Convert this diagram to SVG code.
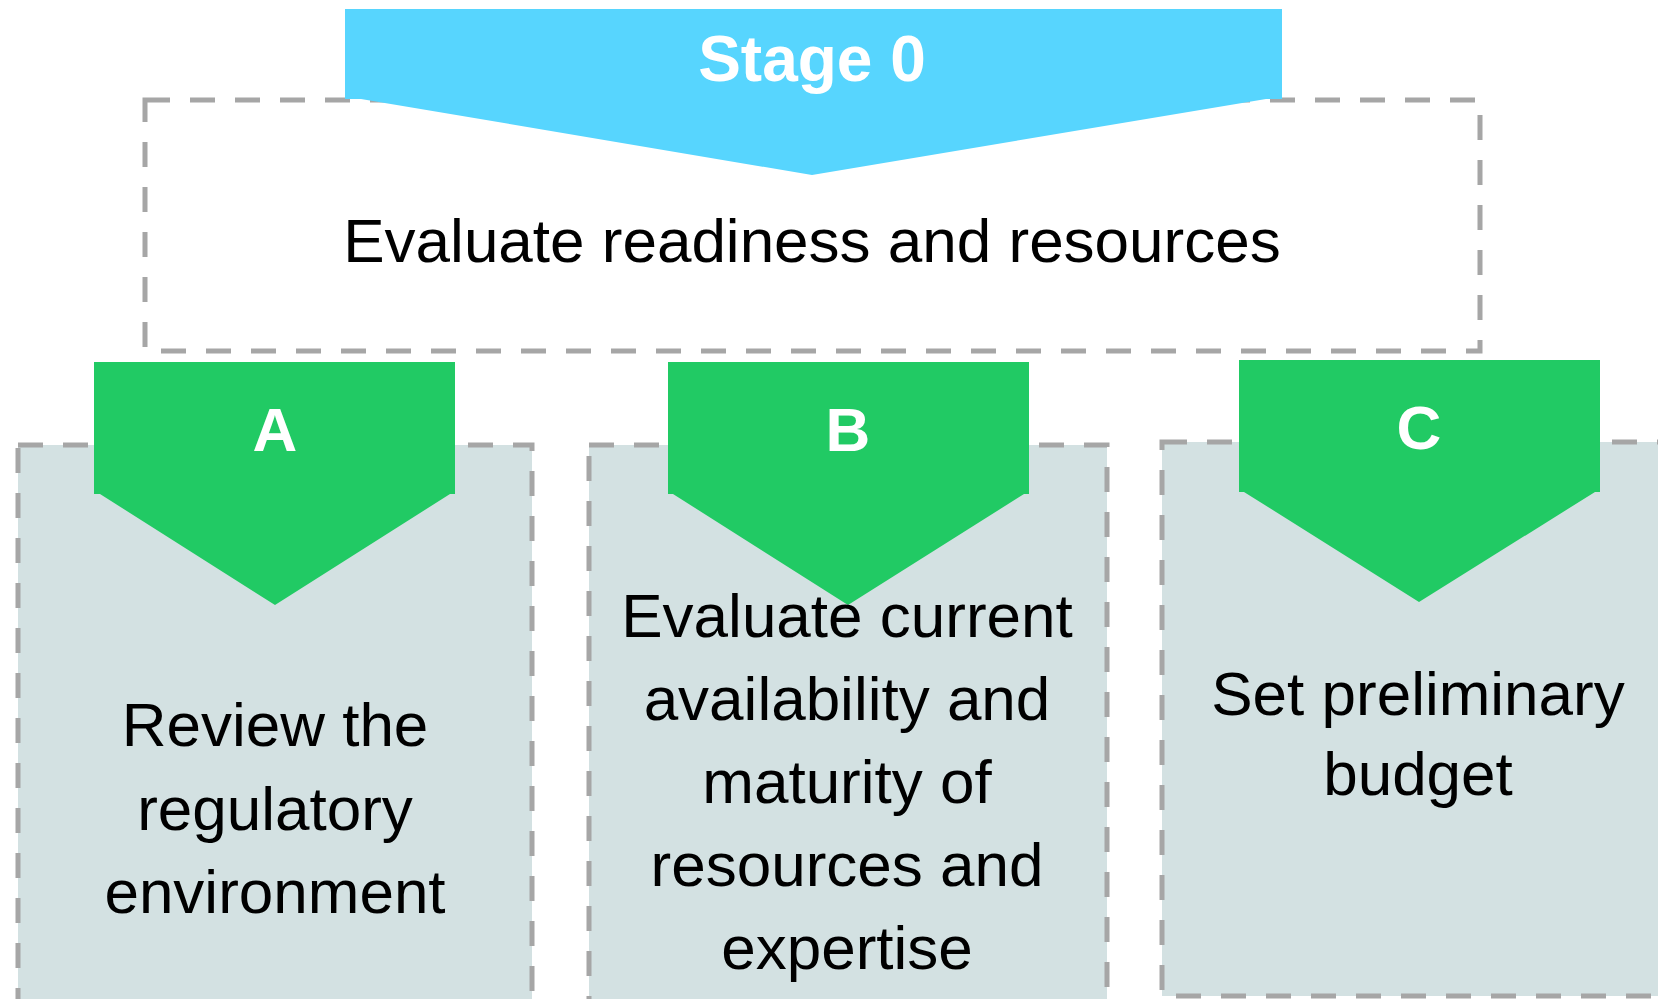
<svg xmlns="http://www.w3.org/2000/svg" width="1658" height="999" viewBox="0 0 1658 999">
  <style>
    .dash { fill: none; stroke: #A6A6A6; stroke-width: 5; stroke-dasharray: 25 20; }
    .panel { fill: #D3E1E2; stroke: #A6A6A6; stroke-width: 5; stroke-dasharray: 25 20; }
    .banner { fill: #57D5FE; }
    .chev { fill: #21CA64; }
    .head { font-family: "Liberation Sans", Arial, sans-serif; font-weight: bold; fill: #FFFFFF; text-anchor: middle; }
    .body { font-family: "Liberation Sans", Arial, sans-serif; font-size: 62px; fill: #000000; text-anchor: middle; }
  </style>
  <rect width="1658" height="999" fill="#FFFFFF"/>

  <g id="stage0">
    <rect class="dash" x="145" y="100" width="1335" height="251"/>
    <polygon class="banner" points="345,9 1282,9 1282,99 1266,99 812,175 361,99 345,99"/>
    <text class="head" x="812" y="81" font-size="64">Stage 0</text>
    <text class="body" x="812" y="262">Evaluate readiness and resources</text>
  </g>

  <g id="stepA">
    <rect class="panel" x="18" y="445" width="514" height="580"/>
    <polygon class="chev" points="94,362 455,362 455,494 450,494 275,605 100,494 94,494"/>
    <text class="head" x="275" y="451" font-size="62">A</text>
    <text class="body" x="275" y="746">Review the</text>
    <text class="body" x="275" y="830">regulatory</text>
    <text class="body" x="275" y="913">environment</text>
  </g>

  <g id="stepB">
    <rect class="panel" x="589" y="445" width="518" height="580"/>
    <polygon class="chev" points="668,362 1029,362 1029,494 1024,494 848,605 673,494 668,494"/>
    <text class="head" x="848" y="451" font-size="62">B</text>
    <text class="body" x="847" y="637">Evaluate current</text>
    <text class="body" x="847" y="720">availability and</text>
    <text class="body" x="847" y="803">maturity of</text>
    <text class="body" x="847" y="886">resources and</text>
    <text class="body" x="847" y="969">expertise</text>
  </g>

  <g id="stepC">
    <rect class="panel" x="1162" y="442" width="530" height="554"/>
    <polygon class="chev" points="1239,360 1600,360 1600,492 1595,492 1419,602 1244,492 1239,492"/>
    <text class="head" x="1419" y="449" font-size="62">C</text>
    <text class="body" x="1418" y="715">Set preliminary</text>
    <text class="body" x="1418" y="795">budget</text>
  </g>

  <g id="connectors"></g>
</svg>
